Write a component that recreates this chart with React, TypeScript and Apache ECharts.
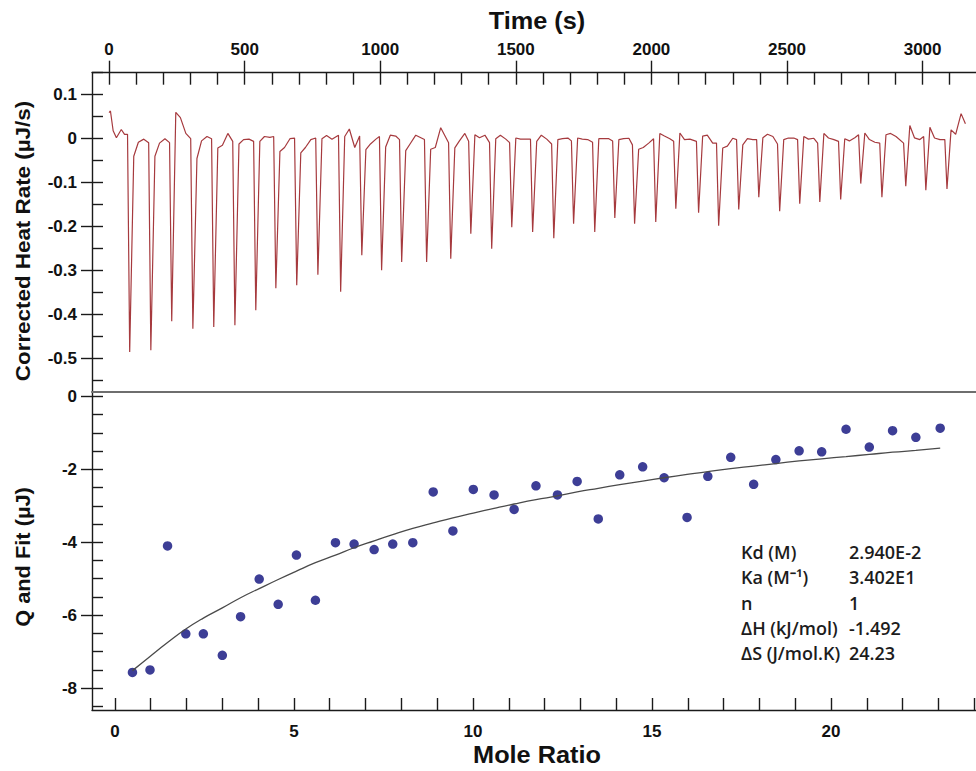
import React, { useEffect, useRef } from "react";
import * as echarts from "echarts";

// ---------- Top panel: thermogram (Time (s) vs Corrected Heat Rate (µJ/s)) ----------
const leadIn: [number, number][] = [
  [0, 0.059], [5, 0.063], [15, 0.018], [27, 0.002], [45, 0.021], [57, 0.01], [68, 0.01],
];
const injTimes = [
  76, 154, 231, 309, 386, 464, 541, 615, 692, 770,
  854, 932, 1005, 1079, 1171, 1260, 1334, 1411, 1485, 1562,
  1640, 1713, 1791, 1865, 1938, 2016, 2090, 2174, 2248, 2322,
  2396, 2473, 2547, 2621, 2698, 2772, 2850, 2938, 3012, 3090,
];
const peakMins = [
  -0.485, -0.481, -0.415, -0.432, -0.428, -0.424, -0.39, -0.34, -0.333, -0.309,
  -0.348, -0.265, -0.299, -0.28, -0.28, -0.273, -0.216, -0.25, -0.201, -0.212,
  -0.226, -0.193, -0.212, -0.18, -0.193, -0.189, -0.159, -0.168, -0.198, -0.161,
  -0.133, -0.165, -0.148, -0.144, -0.138, -0.102, -0.133, -0.108, -0.117, -0.114,
];
// recovery levels after each injection (~15 s, ~32 s, ~52 s after the minimum, and just before the next one)
const kneeVals = [
  -0.04, -0.04, 0.06, -0.045, -0.021, -0.012, -0.006, -0.029, -0.032, 0.0,
  0.005, -0.025, -0.019, -0.027, -0.024, -0.021, 0.009, 0.0, 0.0015, -0.006,
  -0.002, 0.0015, 0.0, -0.002, -0.024, 0.012, 0.013, 0.006, -0.021, -0.014,
  0.002, -0.002, 0.005, 0.012, 0.0, 0.013, 0.009, 0.03, 0.026, 0.02,
];
const topVals = [
  -0.008, -0.01, 0.048, -0.005, -0.015, -0.002, 0.005, -0.02, -0.02, 0.007,
  0.022, -0.012, 0.008, -0.011, -0.02, -0.005, 0.002, 0.008, -0.001, 0.008,
  0.0, -0.001, 0.0, 0.0, -0.02, 0.006, -0.002, 0.008, -0.017, 0.0,
  0.01, 0.0015, -0.001, 0.0015, -0.005, -0.002, 0.012, 0.002, 0.0015, 0.01,
];
const midVals = [
  -0.001, 0.0, 0.012, 0.005, 0.012, -0.001, 0.003, 0.0, -0.002, -0.001,
  -0.02, -0.001, 0.006, 0.008, 0.025, 0.012, 0.008, -0.001, -0.001, -0.001,
  0.0015, -0.002, 0.0, 0.001, -0.01, 0.0, -0.001, -0.01, 0.001, -0.002,
  0.005, 0.0015, 0.001, -0.002, 0.002, -0.008, 0.005, -0.002, -0.002, 0.057,
];
const preVals = [
  -0.009, -0.009, 0.0, 0.0, -0.006, -0.006, 0.005, 0.0015, 0.0015, 0.008,
  0.006, 0.005, -0.002, -0.002, -0.009, -0.006, -0.009, -0.009, -0.001, -0.012,
  -0.005, -0.008, -0.005, -0.014, 0.0, -0.006, -0.006, -0.01, -0.002, -0.002,
  -0.012, -0.002, -0.01, -0.006, 0.009, -0.01, -0.01, 0.005, -0.002, 0.034,
];

// ---------- Bottom panel: integrated heats ----------
const moleRatio = [
  0.49, 0.98, 1.47, 1.98, 2.47, 3.0, 3.51, 4.03, 4.56, 5.07,
  5.6, 6.16, 6.68, 7.24, 7.76, 8.32, 8.89, 9.44, 10.01, 10.59,
  11.15, 11.76, 12.36, 12.91, 13.5, 14.1, 14.74, 15.34, 15.98, 16.56,
  17.2, 17.84, 18.46, 19.11, 19.74, 20.42, 21.07, 21.72, 22.37, 23.05,
];
const qValues = [
  -7.57, -7.5, -4.1, -6.51, -6.51, -7.1, -6.04, -5.01, -5.7, -4.35,
  -5.59, -4.01, -4.05, -4.2, -4.05, -4.01, -2.62, -3.69, -2.55, -2.7,
  -3.1, -2.45, -2.7, -2.33, -3.36, -2.15, -1.93, -2.23, -3.32, -2.19,
  -1.67, -2.41, -1.73, -1.49, -1.52, -0.9, -1.39, -0.94, -1.12, -0.87,
];
const fitValues = [
  -7.52, -7.13, -6.75, -6.38, -6.08, -5.8, -5.52, -5.27, -5.02, -4.79,
  -4.56, -4.35, -4.15, -3.96, -3.79, -3.62, -3.47, -3.33, -3.2, -3.07,
  -2.95, -2.83, -2.73, -2.62, -2.52, -2.42, -2.32, -2.23, -2.14, -2.06,
  -1.98, -1.91, -1.84, -1.77, -1.71, -1.65, -1.59, -1.53, -1.48, -1.42,
];

// ---------- Ticks ----------
const timeMajor = [0, 500, 1000, 1500, 2000, 2500, 3000];
const timeMinor = Array.from({ length: 32 }, (_, i) => i * 100);
const heatMajor = [-0.5, -0.4, -0.3, -0.2, -0.1, 0, 0.1];
const heatMinor = Array.from({ length: 15 }, (_, i) => (i * 5 - 55) / 100);
const ratioMajor = [0, 5, 10, 15, 20];
const ratioMinor = Array.from({ length: 25 }, (_, i) => i);
const qMajor = [-8, -6, -4, -2, 0];
const qMinor = Array.from({ length: 18 }, (_, i) => (i - 17) / 2);

// ---------- Fit parameters ----------
const statLabels = ["Kd (M)", "Ka (M\u207B\u00B9)", "n", "\u0394H (kJ/mol)", "\u0394S (J/mol.K)"];
const statValues = ["2.940E-2", "3.402E1", "1", "-1.492", "24.23"];

export default function App() {
  const ref = useRef<HTMLDivElement>(null);
  useEffect(() => {
    document.body.style.margin = "0";
    const chart = echarts.init(ref.current!, undefined, { renderer: "svg" });

    const thermo: [number, number][] = [...leadIn];
    injTimes.forEach((t, i) => {
      const next = i < injTimes.length - 1 ? injTimes[i + 1] : t + 76;
      thermo.push([t, peakMins[i]], [t + 15, kneeVals[i]], [t + 32, topVals[i]], [t + 52, midVals[i]], [next - 8, preVals[i]]);
    });
    const pts = moleRatio.map((x, i) => [x, qValues[i]]);
    const fit = moleRatio.map((x, i) => [x, fitValues[i]]);

    const AX = "#1a1a1a";
    const FF = '"Liberation Sans", Arial, sans-serif';
    const tickLabel = { fontFamily: FF, fontWeight: "bold" as const, fontSize: 17, color: "#111" };
    const lineSt = { color: AX, width: 1.4 };
    const fmt = (v: number) => (Math.abs(v) < 1e-9 ? "0" : String(v));

    const tMin = -63, tMax = 3197;
    const hMin = -0.575, hMax = 0.15;
    const rMin = -0.64, rMax = 24.05;
    const qMin = -8.6, qMax = 0.13;

    const titleFont = `bold 23px ${FF}`;
    const nameFont = `bold 20px ${FF}`;
    const statFont = `600 18px "Open Sans", sans-serif`;

    const graphics: any[] = [
      { type: "text", x: 537, y: 21, scaleX: 1.1, style: { text: "Time (s)", font: titleFont, fill: "#111", align: "center", verticalAlign: "middle" } },
      { type: "text", x: 537, y: 755, scaleX: 1.1, style: { text: "Mole Ratio", font: titleFont, fill: "#111", align: "center", verticalAlign: "middle" } },
      { type: "text", x: 23, y: 241, rotation: Math.PI / 2, scaleX: 1.12, style: { text: "Corrected Heat Rate (\u00B5J/s)", font: nameFont, fill: "#111", align: "center", verticalAlign: "middle" } },
      { type: "text", x: 23, y: 557, rotation: Math.PI / 2, scaleX: 1.09, style: { text: "Q and Fit (\u00B5J)", font: nameFont, fill: "#111", align: "center", verticalAlign: "middle" } },
    ];
    statLabels.forEach((s, i) => {
      const y = 552 + i * 25.3;
      graphics.push({ type: "text", x: 741, y, style: { text: s, font: statFont, fill: "#1c1c1c", align: "left", verticalAlign: "middle" } });
      graphics.push({ type: "text", x: 849, y, style: { text: statValues[i], font: statFont, fill: "#1c1c1c", align: "left", verticalAlign: "middle" } });
    });

    const option: any = {
      animation: false,
      backgroundColor: "#ffffff",
      grid: [
        { left: 92, top: 72.7, right: 0, height: 319 },
        { left: 92, top: 391.7, right: 0, height: 318.3 },
      ],
      xAxis: [
        {
          type: "value", gridIndex: 0, position: "top", min: tMin, max: tMax,
          axisLine: { show: true, onZero: false, lineStyle: lineSt },
          axisTick: { show: true, inside: false, length: 12, customValues: timeMajor, lineStyle: lineSt },
          axisLabel: { customValues: timeMajor, margin: 15, ...tickLabel, formatter: fmt },
          splitLine: { show: false },
        },
        {
          type: "value", gridIndex: 0, position: "top", min: tMin, max: tMax,
          axisLine: { show: false, onZero: false },
          axisTick: { show: true, inside: true, length: 12, customValues: timeMinor, lineStyle: lineSt },
          axisLabel: { show: false },
          splitLine: { show: false },
        },
        {
          type: "value", gridIndex: 0, position: "bottom", min: tMin, max: tMax,
          axisLine: { show: true, onZero: false, lineStyle: { color: "#6e6e6e", width: 2.2 } },
          axisTick: { show: false }, axisLabel: { show: false }, splitLine: { show: false },
        },
        {
          type: "value", gridIndex: 1, position: "bottom", min: rMin, max: rMax,
          axisLine: { show: true, onZero: false, lineStyle: lineSt },
          axisTick: { show: true, inside: true, length: 12, customValues: ratioMinor, lineStyle: lineSt },
          axisLabel: { customValues: ratioMajor, margin: 13, ...tickLabel, formatter: fmt },
          splitLine: { show: false },
        },
      ],
      yAxis: [
        {
          type: "value", gridIndex: 0, position: "left", min: hMin, max: hMax,
          axisLine: { show: true, onZero: false, lineStyle: lineSt },
          axisTick: { show: true, inside: false, length: 11, customValues: heatMajor, lineStyle: lineSt },
          axisLabel: { customValues: heatMajor, margin: 15, ...tickLabel, formatter: fmt },
          splitLine: { show: false },
        },
        {
          type: "value", gridIndex: 0, position: "left", min: hMin, max: hMax,
          axisLine: { show: false, onZero: false },
          axisTick: { show: true, inside: true, length: 11, customValues: heatMinor, lineStyle: lineSt },
          axisLabel: { show: false }, splitLine: { show: false },
        },
        {
          type: "value", gridIndex: 1, position: "left", min: qMin, max: qMax,
          axisLine: { show: true, onZero: false, lineStyle: lineSt },
          axisTick: { show: true, inside: false, length: 11, customValues: qMajor, lineStyle: lineSt },
          axisLabel: { customValues: qMajor, margin: 15, ...tickLabel, formatter: fmt },
          splitLine: { show: false },
        },
        {
          type: "value", gridIndex: 1, position: "left", min: qMin, max: qMax,
          axisLine: { show: false, onZero: false },
          axisTick: { show: true, inside: true, length: 11, customValues: qMinor, lineStyle: lineSt },
          axisLabel: { show: false }, splitLine: { show: false },
        },
      ],
      series: [
        {
          type: "line", xAxisIndex: 0, yAxisIndex: 0, data: thermo, symbol: "none", showSymbol: false,
          lineStyle: { color: "#a63a3e", width: 1.2 }, silent: true,
        },
        {
          type: "line", xAxisIndex: 3, yAxisIndex: 2, data: fit, symbol: "none", showSymbol: false, smooth: true,
          lineStyle: { color: "#4a4a4a", width: 1.3 }, silent: true,
        },
        {
          type: "scatter", xAxisIndex: 3, yAxisIndex: 2, data: pts, symbolSize: 9.5,
          itemStyle: { color: "#3d3e96", opacity: 1 }, silent: true,
        },
      ],
      graphic: graphics,
    };
    chart.setOption(option);
    return () => chart.dispose();
  }, []);
  return <div ref={ref} style={{ width: 976, height: 771 }} />;
}
